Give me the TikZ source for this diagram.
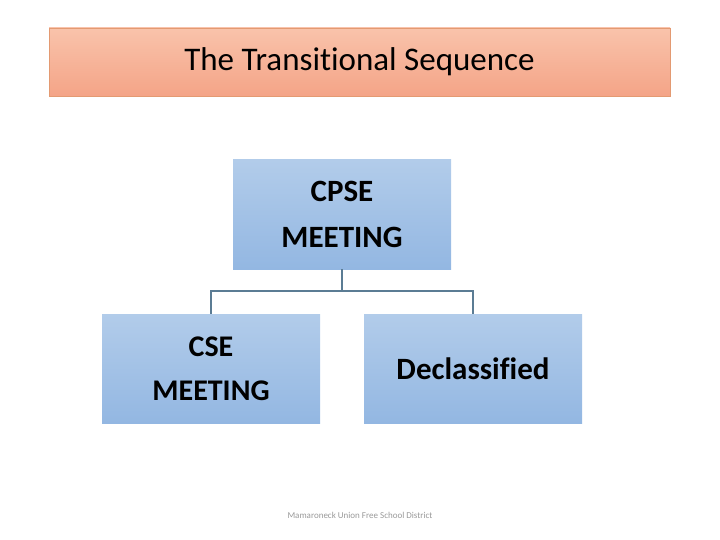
\documentclass[tikz,border=0pt]{standalone}
\usepackage{fontspec}
\setmainfont[Ligatures=NoCommon]{Carlito}
\usepackage{xcolor}
\usetikzlibrary{positioning}

\definecolor{peachtop}{HTML}{F9C3AB}
\definecolor{peachbot}{HTML}{F4A487}
\definecolor{peachline}{HTML}{E39A72}
\definecolor{bluetop}{HTML}{B2CCEA}
\definecolor{bluebot}{HTML}{93B7E2}
\definecolor{linkcol}{HTML}{5B7C94}

\tikzset{
	titlebox/.style={draw=peachline,line width=0.8pt,top color=peachtop,bottom color=peachbot,
		minimum width=621pt,minimum height=68pt,inner sep=0pt,
		font=\fontsize{33}{38}\selectfont},
	stagebox/.style={top color=bluetop,bottom color=bluebot,
		minimum width=218pt,minimum height=109pt,inner sep=0pt,align=center,
		font=\bfseries\fontsize{31}{46}\selectfont},
	link/.style={draw=linkcol,line width=1.8pt}
}

\begin{document}
\begin{tikzpicture}[x=1pt,y=-1pt]
		\useasboundingbox (0,0) rectangle (720,540);
		\node[titlebox] (T) at (359.5,62) {The Transitional Sequence};
		\node[stagebox] (CPSE) at (342,214.5) {CPSE\\MEETING};
		\node[stagebox,font=\bfseries\fontsize{30}{44}\selectfont] (CSE) at (211,368.5) {CSE\\MEETING};
		\node[stagebox] (D) at (473,368.5) {Declassified};
		\node[text=gray!80,font=\fontsize{9}{11}\selectfont] (F) at (360,515) {Mamaroneck Union Free School District};
		%
		\coordinate (J) at (342,291);
		\path[link]
		(CPSE.south) -- (J)
		(J) -| (CSE.north)
		(J) -| (D.north);
	\end{tikzpicture}
\end{document}
